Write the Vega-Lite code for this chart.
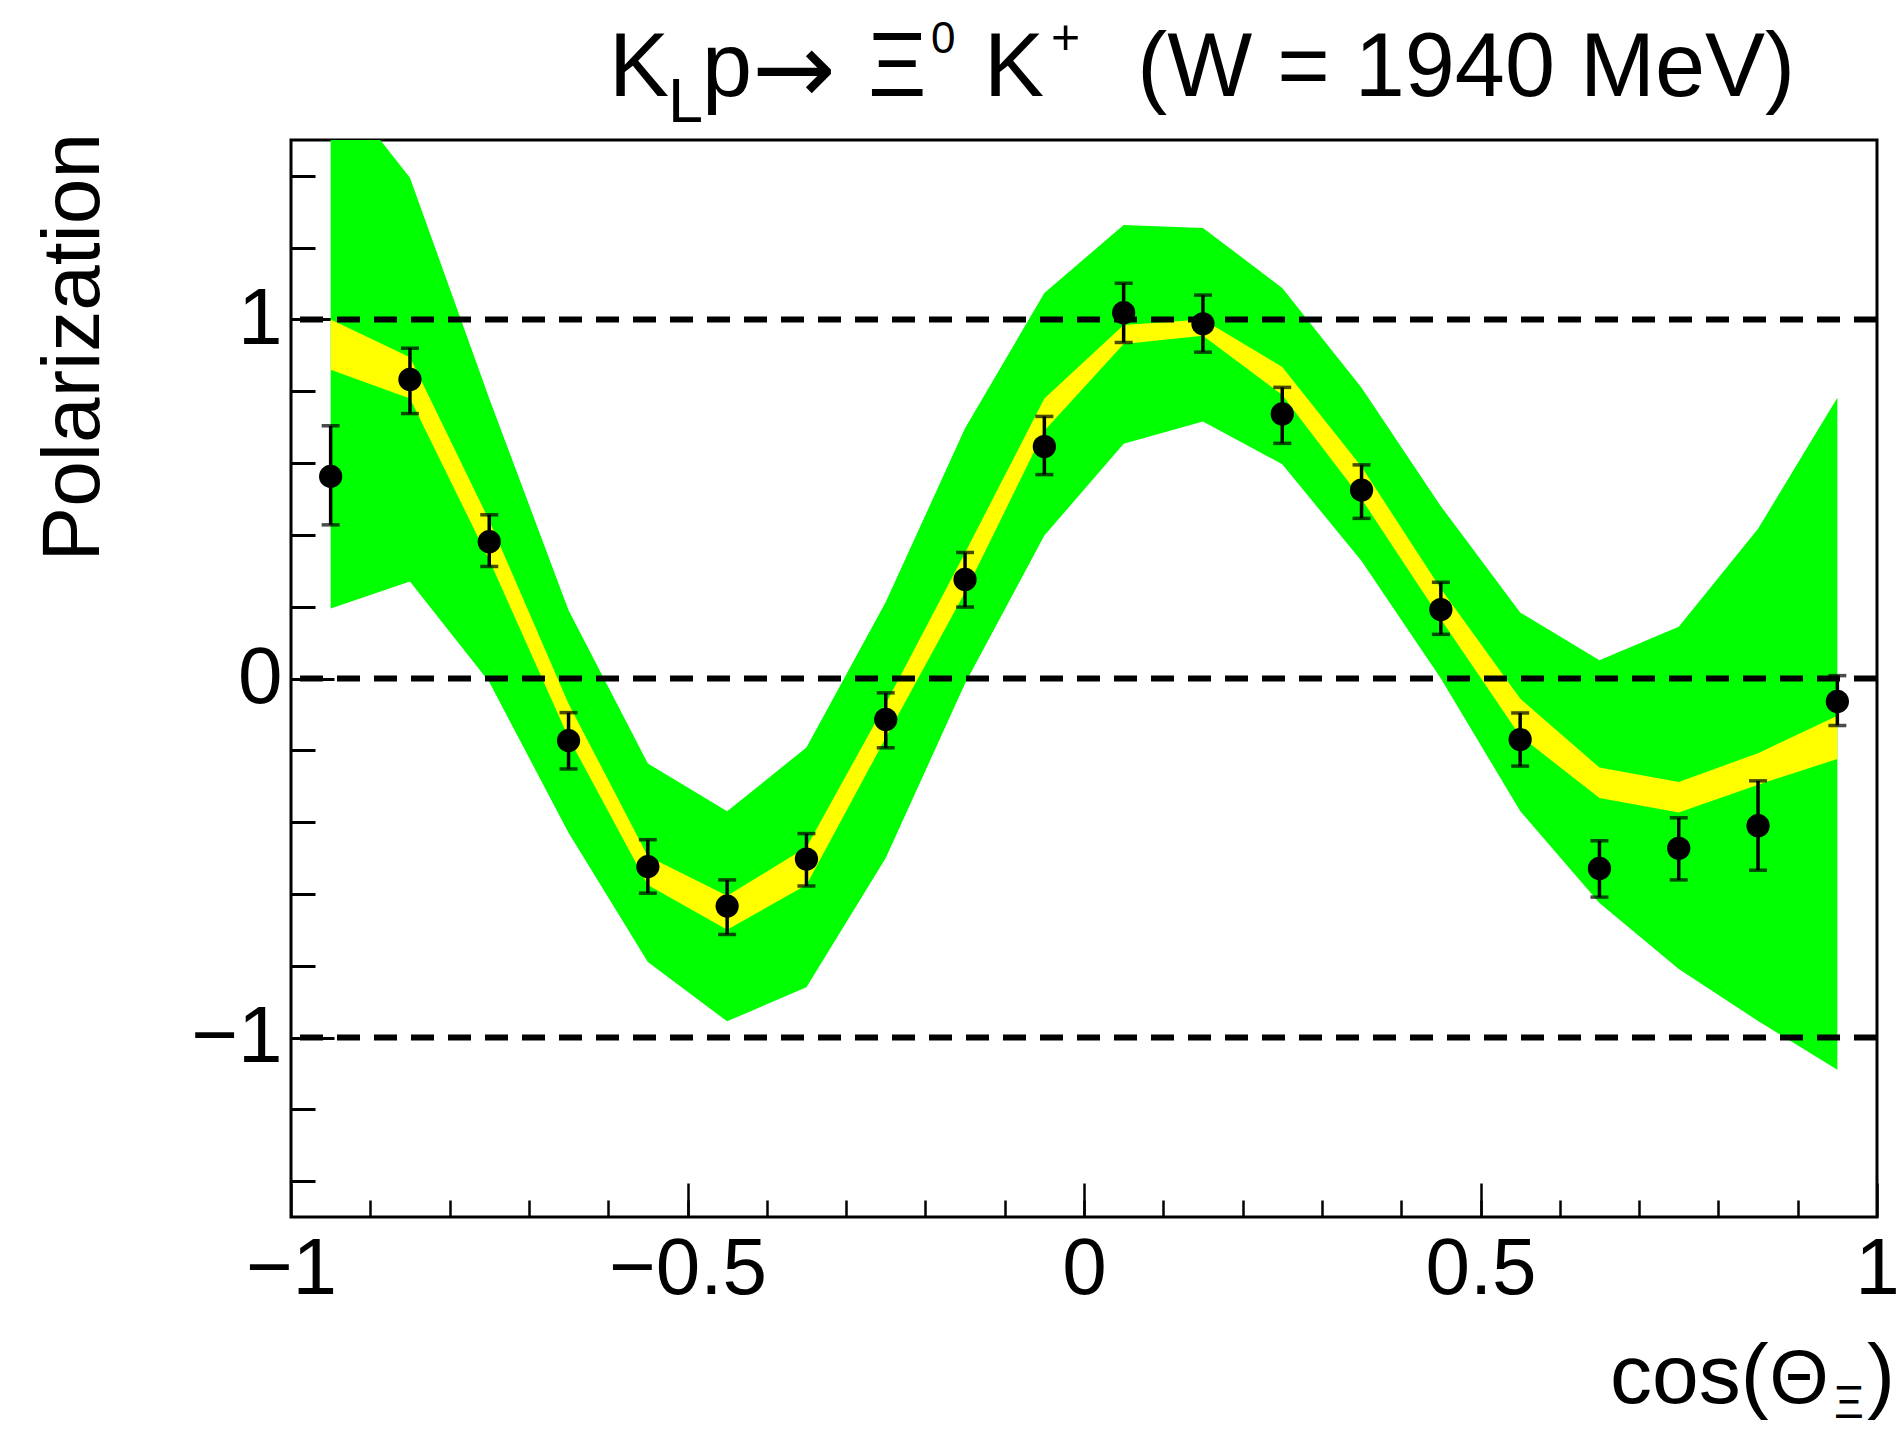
{
  "$schema": "https://vega.github.io/schema/vega-lite/v6.json",
  "width": 1586,
  "height": 1077,
  "autosize": {"type": "none"},
  "padding": {"left": 291, "top": 140, "right": 23, "bottom": 213},
  "background": "white",
  "config": {
    "view": {"stroke": "black", "strokeWidth": 3},
    "text": {"font": "Liberation Sans", "color": "black"}
  },
  "datasets": {
    "band": [
      {"x": -0.95, "glo": 0.195, "ghi": 1.675, "ylo": 0.86, "yhi": 1.0},
      {"x": -0.85, "glo": 0.27, "ghi": 1.395, "ylo": 0.78, "yhi": 0.895},
      {"x": -0.75, "glo": -0.01, "ghi": 0.78, "ylo": 0.33, "yhi": 0.44},
      {"x": -0.65, "glo": -0.43, "ghi": 0.19, "ylo": -0.165, "yhi": -0.07},
      {"x": -0.55, "glo": -0.79, "ghi": -0.237, "ylo": -0.575, "yhi": -0.495},
      {"x": -0.45, "glo": -0.955, "ghi": -0.37, "ylo": -0.7, "yhi": -0.605},
      {"x": -0.35, "glo": -0.86, "ghi": -0.192, "ylo": -0.575, "yhi": -0.47},
      {"x": -0.25, "glo": -0.5, "ghi": 0.213, "ylo": -0.165, "yhi": -0.07},
      {"x": -0.15, "glo": -0.014, "ghi": 0.697, "ylo": 0.24, "yhi": 0.35},
      {"x": -0.05, "glo": 0.398, "ghi": 1.074, "ylo": 0.69, "yhi": 0.78},
      {"x": 0.05, "glo": 0.654, "ghi": 1.263, "ylo": 0.932, "yhi": 0.985},
      {"x": 0.15, "glo": 0.716, "ghi": 1.255, "ylo": 0.955, "yhi": 1.0},
      {"x": 0.25, "glo": 0.597, "ghi": 1.088, "ylo": 0.79, "yhi": 0.868},
      {"x": 0.35, "glo": 0.327, "ghi": 0.81, "ylo": 0.5, "yhi": 0.59},
      {"x": 0.45, "glo": 0.0, "ghi": 0.48, "ylo": 0.165, "yhi": 0.25},
      {"x": 0.55, "glo": -0.369, "ghi": 0.184, "ylo": -0.16, "yhi": -0.056},
      {"x": 0.65, "glo": -0.625, "ghi": 0.051, "ylo": -0.333, "yhi": -0.248},
      {"x": 0.75, "glo": -0.809, "ghi": 0.144, "ylo": -0.373, "yhi": -0.288},
      {"x": 0.85, "glo": -0.954, "ghi": 0.417, "ylo": -0.296, "yhi": -0.208},
      {"x": 0.95, "glo": -1.09, "ghi": 0.782, "ylo": -0.224, "yhi": -0.104}
    ],
    "pts": [
      {"x": -0.95, "p": 0.563, "elo": 0.428, "ehi": 0.704},
      {"x": -0.85, "p": 0.833, "elo": 0.738, "ehi": 0.92},
      {"x": -0.75, "p": 0.381, "elo": 0.312, "ehi": 0.456},
      {"x": -0.65, "p": -0.173, "elo": -0.252, "ehi": -0.095},
      {"x": -0.55, "p": -0.524, "elo": -0.598, "ehi": -0.449},
      {"x": -0.45, "p": -0.634, "elo": -0.713, "ehi": -0.561},
      {"x": -0.35, "p": -0.503, "elo": -0.578, "ehi": -0.432},
      {"x": -0.25, "p": -0.114, "elo": -0.193, "ehi": -0.04},
      {"x": -0.15, "p": 0.276, "elo": 0.199, "ehi": 0.351},
      {"x": -0.05, "p": 0.646, "elo": 0.568, "ehi": 0.73},
      {"x": 0.05, "p": 1.019, "elo": 0.936, "ehi": 1.101},
      {"x": 0.15, "p": 0.988, "elo": 0.909, "ehi": 1.068},
      {"x": 0.25, "p": 0.737, "elo": 0.655, "ehi": 0.811},
      {"x": 0.35, "p": 0.525, "elo": 0.446, "ehi": 0.595},
      {"x": 0.45, "p": 0.192, "elo": 0.123, "ehi": 0.268},
      {"x": 0.55, "p": -0.17, "elo": -0.244, "ehi": -0.096},
      {"x": 0.65, "p": -0.529, "elo": -0.609, "ehi": -0.452},
      {"x": 0.75, "p": -0.473, "elo": -0.561, "ehi": -0.388},
      {"x": 0.85, "p": -0.41, "elo": -0.534, "ehi": -0.285},
      {"x": 0.95, "p": -0.064, "elo": -0.131, "ehi": 0.008}
    ],
    "refs": [{"ref": -1}, {"ref": 0}, {"ref": 1}],
    "one": [{}]
  },
  "resolve": {"axis": {"x": "independent", "y": "independent"}},
  "layer": [
    {
      "data": {"name": "band"},
      "mark": {"type": "area", "color": "#00ff00", "opacity": 1, "clip": true},
      "encoding": {
        "x": {"field": "x", "type": "quantitative", "scale": {"domain": [-1, 1], "nice": false, "zero": false},
          "axis": {"orient": "bottom", "values": [-1, -0.5, 0, 0.5, 1], "format": "~g", "ticks": false, "domain": false, "grid": false, "title": null, "labelFont": "Liberation Sans", "labelFontSize": 80, "labelColor": "black", "labelPadding": 13, "labelFlush": false, "labelOverlap": false}},
        "y": {"field": "glo", "type": "quantitative", "scale": {"domain": [-1.5, 1.5], "nice": false, "zero": false},
          "axis": {"orient": "left", "values": [-1, 0, 1], "format": "~g", "ticks": false, "domain": false, "grid": false, "title": null, "labelFont": "Liberation Sans", "labelFontSize": 80, "labelColor": "black", "labelPadding": 9, "labelFlush": false, "labelOverlap": false}},
        "y2": {"field": "ghi"}
      }
    },
    {
      "data": {"name": "band"},
      "mark": {"type": "area", "color": "#ffff00", "opacity": 1, "clip": true},
      "encoding": {
        "x": {"field": "x", "type": "quantitative", "scale": {"domain": [-1, 1], "nice": false, "zero": false},
          "axis": {"orient": "bottom", "values": [-1, -0.5, 0, 0.5, 1], "labels": false, "ticks": true, "tickSize": -34, "tickWidth": 2.5, "tickColor": "black", "domain": false, "grid": false, "title": null}},
        "y": {"field": "ylo", "type": "quantitative", "scale": {"domain": [-1.5, 1.5], "nice": false, "zero": false},
          "axis": {"orient": "left", "values": [-1, 0, 1], "labels": false, "ticks": true, "tickSize": -43, "tickWidth": 3, "tickColor": "black", "domain": false, "grid": false, "title": null}},
        "y2": {"field": "yhi"}
      }
    },
    {
      "data": {"name": "refs"},
      "mark": {"type": "rule", "color": "black", "strokeWidth": 6, "strokeDash": [23, 14]},
      "encoding": {
        "y": {"field": "ref", "type": "quantitative", "scale": {"domain": [-1.5, 1.5], "nice": false, "zero": false},
          "axis": {"orient": "left", "values": [-1.4, -1.2, -1, -0.8, -0.6, -0.4, -0.2, 0, 0.2, 0.4, 0.6, 0.8, 1, 1.2, 1.4], "labels": false, "ticks": true, "tickSize": -24, "tickWidth": 3, "tickColor": "black", "domain": false, "grid": false, "title": null}}
      }
    },
    {
      "data": {"name": "pts"},
      "mark": {"type": "errorbar", "color": "black", "thickness": 3.5, "ticks": {"size": 18, "thickness": 3.5, "color": "black"}, "rule": {"strokeWidth": 3.5, "color": "black"}},
      "encoding": {
        "x": {"field": "x", "type": "quantitative", "scale": {"domain": [-1, 1], "nice": false, "zero": false},
          "axis": {"orient": "bottom", "values": [-0.9, -0.8, -0.7, -0.6, -0.5, -0.4, -0.3, -0.2, -0.1, 0, 0.1, 0.2, 0.3, 0.4, 0.5, 0.6, 0.7, 0.8, 0.9], "labels": false, "ticks": true, "tickSize": -17, "tickWidth": 2.5, "tickColor": "black", "domain": false, "grid": false, "title": null}},
        "y": {"field": "elo", "type": "quantitative", "scale": {"domain": [-1.5, 1.5], "nice": false, "zero": false}, "axis": null},
        "y2": {"field": "ehi"}
      }
    },
    {
      "data": {"name": "pts"},
      "mark": {"type": "point", "filled": true, "shape": "circle", "size": 540, "color": "black", "opacity": 1},
      "encoding": {
        "x": {"field": "x", "type": "quantitative", "scale": {"domain": [-1, 1], "nice": false, "zero": false}, "axis": null},
        "y": {"field": "p", "type": "quantitative", "scale": {"domain": [-1.5, 1.5], "nice": false, "zero": false}, "axis": null}
      }
    },
    {
      "data": {"name": "one"},
      "mark": {"type": "text", "text": "K", "fontSize": 90, "align": "left", "baseline": "alphabetic"},
      "encoding": {
        "x": {"datum": -0.599, "type": "quantitative", "scale": {"domain": [-1, 1], "nice": false, "zero": false}, "axis": null},
        "y": {"datum": 1.6226, "type": "quantitative", "scale": {"domain": [-1.5, 1.5], "nice": false, "zero": false}, "axis": null}
      }
    },
    {
      "data": {"name": "one"},
      "mark": {"type": "text", "text": "L", "fontSize": 63, "align": "left", "baseline": "alphabetic"},
      "encoding": {
        "x": {"datum": -0.5246, "type": "quantitative", "scale": {"domain": [-1, 1], "nice": false, "zero": false}, "axis": null},
        "y": {"datum": 1.551, "type": "quantitative", "scale": {"domain": [-1.5, 1.5], "nice": false, "zero": false}, "axis": null}
      }
    },
    {
      "data": {"name": "one"},
      "mark": {"type": "text", "text": "p", "fontSize": 90, "align": "left", "baseline": "alphabetic"},
      "encoding": {
        "x": {"datum": -0.4817, "type": "quantitative", "scale": {"domain": [-1, 1], "nice": false, "zero": false}, "axis": null},
        "y": {"datum": 1.6226, "type": "quantitative", "scale": {"domain": [-1.5, 1.5], "nice": false, "zero": false}, "axis": null}
      }
    },
    {
      "data": {"name": "one"},
      "mark": {"type": "text", "text": "→", "font": "DejaVu Sans", "fontSize": 100, "align": "left", "baseline": "alphabetic"},
      "encoding": {
        "x": {"datum": -0.4187, "type": "quantitative", "scale": {"domain": [-1, 1], "nice": false, "zero": false}, "axis": null},
        "y": {"datum": 1.603, "type": "quantitative", "scale": {"domain": [-1.5, 1.5], "nice": false, "zero": false}, "axis": null}
      }
    },
    {
      "data": {"name": "one"},
      "mark": {"type": "text", "text": "Ξ", "fontSize": 90, "align": "left", "baseline": "alphabetic"},
      "encoding": {
        "x": {"datum": -0.2724, "type": "quantitative", "scale": {"domain": [-1, 1], "nice": false, "zero": false}, "axis": null},
        "y": {"datum": 1.6226, "type": "quantitative", "scale": {"domain": [-1.5, 1.5], "nice": false, "zero": false}, "axis": null}
      }
    },
    {
      "data": {"name": "one"},
      "mark": {"type": "text", "text": "0", "fontSize": 44, "align": "left", "baseline": "alphabetic"},
      "encoding": {
        "x": {"datum": -0.1929, "type": "quantitative", "scale": {"domain": [-1, 1], "nice": false, "zero": false}, "axis": null},
        "y": {"datum": 1.742, "type": "quantitative", "scale": {"domain": [-1.5, 1.5], "nice": false, "zero": false}, "axis": null}
      }
    },
    {
      "data": {"name": "one"},
      "mark": {"type": "text", "text": "K", "fontSize": 90, "align": "left", "baseline": "alphabetic"},
      "encoding": {
        "x": {"datum": -0.1261, "type": "quantitative", "scale": {"domain": [-1, 1], "nice": false, "zero": false}, "axis": null},
        "y": {"datum": 1.6226, "type": "quantitative", "scale": {"domain": [-1.5, 1.5], "nice": false, "zero": false}, "axis": null}
      }
    },
    {
      "data": {"name": "one"},
      "mark": {"type": "text", "text": "+", "fontSize": 50, "align": "left", "baseline": "alphabetic"},
      "encoding": {
        "x": {"datum": -0.0417, "type": "quantitative", "scale": {"domain": [-1, 1], "nice": false, "zero": false}, "axis": null},
        "y": {"datum": 1.74, "type": "quantitative", "scale": {"domain": [-1.5, 1.5], "nice": false, "zero": false}, "axis": null}
      }
    },
    {
      "data": {"name": "one"},
      "mark": {"type": "text", "text": "(W = 1940 MeV)", "fontSize": 90, "align": "right", "baseline": "alphabetic"},
      "encoding": {
        "x": {"datum": 0.8966, "type": "quantitative", "scale": {"domain": [-1, 1], "nice": false, "zero": false}, "axis": null},
        "y": {"datum": 1.6226, "type": "quantitative", "scale": {"domain": [-1.5, 1.5], "nice": false, "zero": false}, "axis": null}
      }
    },
    {
      "data": {"name": "one"},
      "mark": {"type": "text", "text": "cos(", "fontSize": 84, "align": "left", "baseline": "alphabetic"},
      "encoding": {
        "x": {"datum": 0.6633, "type": "quantitative", "scale": {"domain": [-1, 1], "nice": false, "zero": false}, "axis": null},
        "y": {"datum": -2.0181, "type": "quantitative", "scale": {"domain": [-1.5, 1.5], "nice": false, "zero": false}, "axis": null}
      }
    },
    {
      "data": {"name": "one"},
      "mark": {"type": "text", "text": "Θ", "fontSize": 76, "align": "center", "baseline": "alphabetic"},
      "encoding": {
        "x": {"datum": 0.9016, "type": "quantitative", "scale": {"domain": [-1, 1], "nice": false, "zero": false}, "axis": null},
        "y": {"datum": -2.0181, "type": "quantitative", "scale": {"domain": [-1.5, 1.5], "nice": false, "zero": false}, "axis": null}
      }
    },
    {
      "data": {"name": "one"},
      "mark": {"type": "text", "text": "Ξ", "fontSize": 46, "align": "left", "baseline": "alphabetic"},
      "encoding": {
        "x": {"datum": 0.9458, "type": "quantitative", "scale": {"domain": [-1, 1], "nice": false, "zero": false}, "axis": null},
        "y": {"datum": -2.0599, "type": "quantitative", "scale": {"domain": [-1.5, 1.5], "nice": false, "zero": false}, "axis": null}
      }
    },
    {
      "data": {"name": "one"},
      "mark": {"type": "text", "text": ")", "fontSize": 84, "align": "left", "baseline": "alphabetic"},
      "encoding": {
        "x": {"datum": 0.9874, "type": "quantitative", "scale": {"domain": [-1, 1], "nice": false, "zero": false}, "axis": null},
        "y": {"datum": -2.0181, "type": "quantitative", "scale": {"domain": [-1.5, 1.5], "nice": false, "zero": false}, "axis": null}
      }
    },
    {
      "data": {"name": "one"},
      "mark": {"type": "text", "text": "Polarization", "fontSize": 82, "angle": 270, "align": "right", "baseline": "alphabetic"},
      "encoding": {
        "x": {"datum": -1.2421, "type": "quantitative", "scale": {"domain": [-1, 1], "nice": false, "zero": false}, "axis": null},
        "y": {"datum": 1.5195, "type": "quantitative", "scale": {"domain": [-1.5, 1.5], "nice": false, "zero": false}, "axis": null}
      }
    }
  ]
}
